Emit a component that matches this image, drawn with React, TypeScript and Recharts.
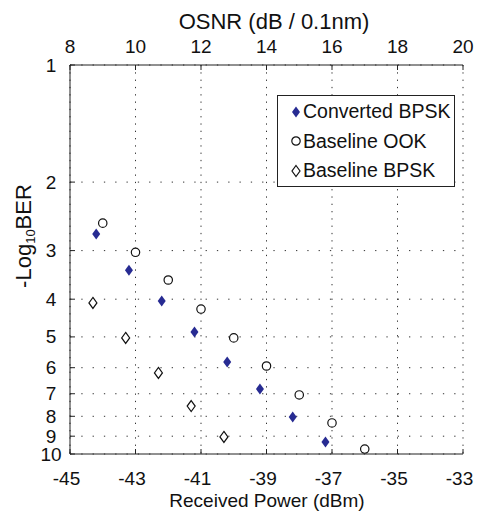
import { ScatterChart, Scatter, XAxis, YAxis, CartesianGrid, Legend } from "recharts";

const powerTicks = [-45, -43, -41, -39, -37, -35, -33];
const osnrTicks = [8, 10, 12, 14, 16, 18, 20];
const berTicks = [1, 2, 3, 4, 5, 6, 7, 8, 9, 10];

const convertedPower = [-44.2, -43.2, -42.2, -41.2, -40.2, -39.2, -38.2, -37.2];
const convertedBer = [2.72, 3.37, 4.04, 4.86, 5.8, 6.81, 8.03, 9.31];

const ookPower = [-44, -43, -42, -41, -40, -39, -38, -37, -36];
const ookBer = [2.55, 3.03, 3.57, 4.24, 5.03, 5.94, 7.05, 8.32, 9.71];

const bpskPower = [-44.3, -43.3, -42.3, -41.3, -40.3];
const bpskBer = [4.09, 5.03, 6.19, 7.53, 9.04];

const toPoints = (xs: number[], ys: number[]) => xs.map((x, i) => ({ power: x, ber: ys[i] }));

const NAVY = "#272b92";
const FONT = "Arial, 'Liberation Sans', sans-serif";
const FS = 19;

const FilledDiamond = (p: any) => (
    <path d={`M${p.cx},${p.cy - 5.5}L${p.cx + 4},${p.cy}L${p.cx},${p.cy + 5.5}L${p.cx - 4},${p.cy}Z`} fill={NAVY} />
);
const OpenCircle = (p: any) => <circle cx={p.cx} cy={p.cy} r={4.2} fill="#fff" stroke="#111" strokeWidth={1.2} />;
const OpenDiamond = (p: any) => (
    <path
        d={`M${p.cx},${p.cy - 5.5}L${p.cx + 4},${p.cy}L${p.cx},${p.cy + 5.5}L${p.cx - 4},${p.cy}Z`}
        fill="#fff"
        stroke="#111"
        strokeWidth={1.2}
    />
);

// Matlab style: tick marks point inward, labels outside
const BottomTick = ({ x, y, payload }: any) => (
    <g>
        <line x1={x} y1={y} x2={x} y2={y - 5} stroke="#222" />
        <text x={x - 3.5} y={y + 31} textAnchor="middle" fontSize={FS} fontFamily={FONT} fill="#111">
            {payload.value}
        </text>
    </g>
);
const TopTick = ({ x, y, payload }: any) => (
    <g>
        <line x1={x} y1={y} x2={x} y2={y + 5} stroke="#222" />
        <text x={x} y={y - 12} textAnchor="middle" fontSize={FS} fontFamily={FONT} fill="#111">
            {payload.value}
        </text>
    </g>
);
const LeftTick = ({ x, y, payload }: any) => (
    <g>
        <line x1={x} y1={y} x2={x + 5} y2={y} stroke="#222" />
        <text x={x - 19} y={y + 6.5} textAnchor="middle" fontSize={FS} fontFamily={FONT} fill="#111">
            {payload.value}
        </text>
    </g>
);
const RightTick = ({ x, y }: any) => <line x1={x} y1={y} x2={x - 5} y2={y} stroke="#222" />;

const legendItems = [
    { name: "Converted BPSK", Mark: FilledDiamond },
    { name: "Baseline OOK", Mark: OpenCircle },
    { name: "Baseline BPSK", Mark: OpenDiamond },
];

const LegendBox = () => (
    <div
        style={{
            border: "1.2px solid #222",
            background: "#fff",
            width: 178,
            height: 92,
            boxSizing: "border-box",
            padding: "1px 0 0 11px",
            fontFamily: FONT,
            fontSize: 19.5,
            color: "#111",
            whiteSpace: "nowrap",
            overflow: "visible",
        }}
    >
        {legendItems.map(({ name, Mark }) => (
            <div key={name} style={{ display: "flex", alignItems: "center", height: 29.5 }}>
                <svg width={14} height={14} style={{ flexShrink: 0 }}>
                    <Mark cx={7} cy={7} />
                </svg>
                <span>{name}</span>
            </div>
        ))}
    </div>
);

export default function App() {
    return (
        <div style={{ position: "absolute", left: 0, top: 0, width: 477, height: 515, background: "#fff" }}>
            <ScatterChart width={477} height={515} margin={{ top: 35, right: 14, bottom: 31, left: 10 }}>
                <CartesianGrid
                    xAxisId="bottom"
                    yAxisId="left"
                    horizontal={false}
                    stroke="#333"
                    strokeDasharray="1.3 6"
                />
                <CartesianGrid
                    xAxisId="bottom"
                    yAxisId="left"
                    vertical={false}
                    stroke="#333"
                    strokeDasharray="1.3 10"
                />
                <XAxis
                    xAxisId="bottom"
                    type="number"
                    dataKey="power"
                    domain={[-45, -33]}
                    ticks={powerTicks}
                    interval={0}
                    height={30}
                    tickSize={0}
                    tickMargin={0}
                    tick={<BottomTick />}
                    axisLine={{ stroke: "#222" }}
                    allowDataOverflow
                    label={{
                        content: () => (
                            <text x={267} y={507} textAnchor="middle" fontSize={FS} fontFamily={FONT} fill="#111">
                                Received Power (dBm)
                            </text>
                        ),
                    }}
                />
                <XAxis
                    xAxisId="top"
                    orientation="top"
                    type="number"
                    dataKey="osnr"
                    domain={[8, 20]}
                    ticks={osnrTicks}
                    interval={0}
                    height={30}
                    tickSize={0}
                    tickMargin={0}
                    tick={<TopTick />}
                    axisLine={{ stroke: "#222" }}
                    allowDataOverflow
                    label={{
                        content: () => (
                            <text x={274} y={29} textAnchor="middle" fontSize={22} fontFamily={FONT} fill="#111">
                                OSNR (dB / 0.1nm)
                            </text>
                        ),
                    }}
                />
                <YAxis
                    yAxisId="left"
                    type="number"
                    dataKey="ber"
                    scale="log"
                    domain={[1, 10]}
                    reversed
                    ticks={berTicks}
                    interval={0}
                    width={60}
                    tickSize={0}
                    tickMargin={0}
                    tick={<LeftTick />}
                    axisLine={{ stroke: "#222" }}
                    allowDataOverflow
                    label={{
                        content: () => (
                            <text
                                transform="translate(31,236) rotate(-90)"
                                textAnchor="middle"
                                fontSize={22}
                                fontFamily={FONT}
                                fill="#111"
                            >
                                -Log
                                <tspan fontSize={13} dy={4}>10</tspan>
                                <tspan dy={-4}>BER</tspan>
                            </text>
                        ),
                    }}
                />
                <YAxis
                    yAxisId="right"
                    orientation="right"
                    type="number"
                    dataKey="ber"
                    scale="log"
                    domain={[1, 10]}
                    reversed
                    ticks={berTicks}
                    interval={0}
                    width={0}
                    tickSize={0}
                    tickMargin={0}
                    tick={<RightTick />}
                    axisLine={{ stroke: "#222" }}
                    allowDataOverflow
                />
                <Legend
                    layout="vertical"
                    align="center"
                    verticalAlign="middle"
                    wrapperStyle={{ top: 95, left: 277, width: 178, height: 92 }}
                    content={() => <LegendBox />}
                />
                <Scatter
                    name="Converted BPSK"
                    xAxisId="bottom"
                    yAxisId="left"
                    data={toPoints(convertedPower, convertedBer)}
                    shape={<FilledDiamond />}
                    isAnimationActive={false}
                />
                <Scatter
                    name="Baseline OOK"
                    xAxisId="bottom"
                    yAxisId="left"
                    data={toPoints(ookPower, ookBer)}
                    shape={<OpenCircle />}
                    isAnimationActive={false}
                />
                <Scatter
                    name="Baseline BPSK"
                    xAxisId="bottom"
                    yAxisId="left"
                    data={toPoints(bpskPower, bpskBer)}
                    shape={<OpenDiamond />}
                    isAnimationActive={false}
                />
            </ScatterChart>
        </div>
    );
}
